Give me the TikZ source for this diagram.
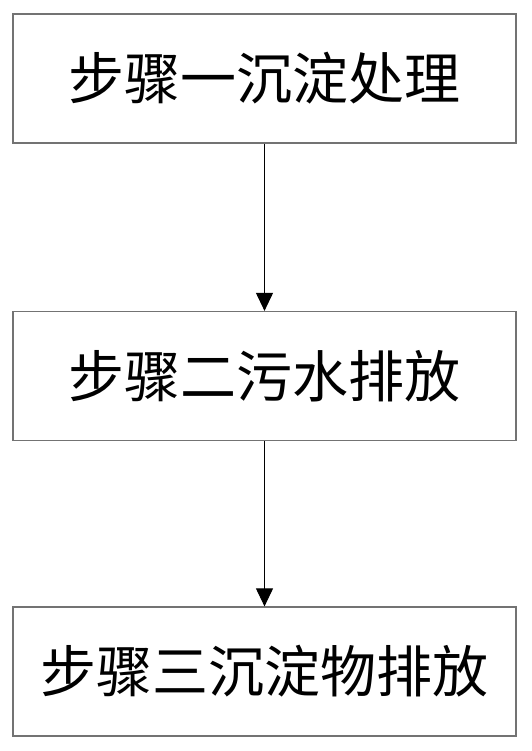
\documentclass[tikz,border=0pt]{standalone}
\usepackage{fontspec}
\newfontfamily\cjk{Noto Sans CJK SC}
\usetikzlibrary{arrows.meta}
\begin{document}
\begin{tikzpicture}[x=1pt,y=-1pt,
  stepbox/.style={draw=black!55,line width=1.2pt,minimum width=503pt,minimum height=129pt,inner sep=0pt,font=\cjk\fontsize{56}{62}\selectfont},
  flow/.style={draw=black,line width=1pt,-{Triangle[width=17pt,length=18pt]}}]
\useasboundingbox (0,0) rectangle (531,751);
\node[stepbox] (s1) at (264.5,78.5) {步骤一沉淀处理};
\node[stepbox] (s2) at (264.5,376) {步骤二污水排放};
\node[stepbox] (s3) at (264.5,671.5) {步骤三沉淀物排放};
\draw[flow] (s1.south) -- (s2.north);
\draw[flow] (s2.south) -- (s3.north);
\end{tikzpicture}
\end{document}
